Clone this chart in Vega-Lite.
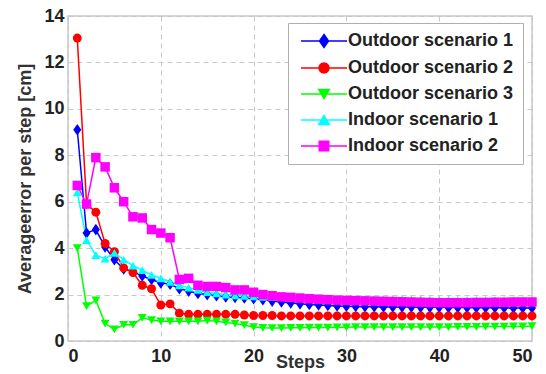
{
  "$schema": "https://vega.github.io/schema/vega-lite/v6.json",
  "width": 464,
  "height": 325,
  "autosize": {"type": "none"},
  "padding": {"left": 68, "top": 16, "right": 14, "bottom": 33},
  "background": "white",
  "config": {
    "font": "Liberation Sans",
    "view": {"stroke": "#c8c8c8", "strokeWidth": 1.5},
    "axis": {
      "domain": false,
      "ticks": false,
      "grid": true,
      "gridColor": "#c8c8c8",
      "gridDash": [5, 4],
      "gridWidth": 1,
      "labelFont": "Liberation Sans",
      "labelFontSize": 18,
      "labelFontWeight": "bold",
      "labelColor": "#222222",
      "titleFont": "Liberation Sans",
      "titleFontSize": 18,
      "titleFontWeight": "bold",
      "titleColor": "#333333"
    }
  },
  "data": {
    "values": [
      {"x": 1, "Outdoor scenario 1": 9.1, "Outdoor scenario 2": 13.05, "Outdoor scenario 3": 4.0, "Indoor scenario 1": 6.4, "Indoor scenario 2": 6.7},
      {"x": 2, "Outdoor scenario 1": 4.65, "Outdoor scenario 2": 5.9, "Outdoor scenario 3": 1.5, "Indoor scenario 1": 4.35, "Indoor scenario 2": 5.9},
      {"x": 3, "Outdoor scenario 1": 4.8, "Outdoor scenario 2": 5.55, "Outdoor scenario 3": 1.75, "Indoor scenario 1": 3.7, "Indoor scenario 2": 7.9},
      {"x": 4, "Outdoor scenario 1": 4.05, "Outdoor scenario 2": 4.2, "Outdoor scenario 3": 0.75, "Indoor scenario 1": 3.55, "Indoor scenario 2": 7.5},
      {"x": 5, "Outdoor scenario 1": 3.5, "Outdoor scenario 2": 3.85, "Outdoor scenario 3": 0.5, "Indoor scenario 1": 3.8, "Indoor scenario 2": 6.6},
      {"x": 6, "Outdoor scenario 1": 3.1, "Outdoor scenario 2": 3.15, "Outdoor scenario 3": 0.7, "Indoor scenario 1": 3.5, "Indoor scenario 2": 6.0},
      {"x": 7, "Outdoor scenario 1": 3.0, "Outdoor scenario 2": 2.95, "Outdoor scenario 3": 0.7, "Indoor scenario 1": 3.25, "Indoor scenario 2": 5.35},
      {"x": 8, "Outdoor scenario 1": 2.8, "Outdoor scenario 2": 2.4, "Outdoor scenario 3": 1.0, "Indoor scenario 1": 3.05, "Indoor scenario 2": 5.3},
      {"x": 9, "Outdoor scenario 1": 2.65, "Outdoor scenario 2": 2.25, "Outdoor scenario 3": 0.9, "Indoor scenario 1": 2.85, "Indoor scenario 2": 4.8},
      {"x": 10, "Outdoor scenario 1": 2.5, "Outdoor scenario 2": 1.55, "Outdoor scenario 3": 0.85, "Indoor scenario 1": 2.7, "Indoor scenario 2": 4.65},
      {"x": 11, "Outdoor scenario 1": 2.45, "Outdoor scenario 2": 1.6, "Outdoor scenario 3": 0.85, "Indoor scenario 1": 2.55, "Indoor scenario 2": 4.45},
      {"x": 12, "Outdoor scenario 1": 2.25, "Outdoor scenario 2": 1.2, "Outdoor scenario 3": 0.85, "Indoor scenario 1": 2.4, "Indoor scenario 2": 2.65},
      {"x": 13, "Outdoor scenario 1": 2.15, "Outdoor scenario 2": 1.15, "Outdoor scenario 3": 0.85, "Indoor scenario 1": 2.3, "Indoor scenario 2": 2.7},
      {"x": 14, "Outdoor scenario 1": 2.05, "Outdoor scenario 2": 1.15, "Outdoor scenario 3": 0.85, "Indoor scenario 1": 2.2, "Indoor scenario 2": 2.4},
      {"x": 15, "Outdoor scenario 1": 2.0, "Outdoor scenario 2": 1.15, "Outdoor scenario 3": 0.88, "Indoor scenario 1": 2.1, "Indoor scenario 2": 2.35},
      {"x": 16, "Outdoor scenario 1": 1.95, "Outdoor scenario 2": 1.15, "Outdoor scenario 3": 0.85, "Indoor scenario 1": 2.05, "Indoor scenario 2": 2.35},
      {"x": 17, "Outdoor scenario 1": 1.9, "Outdoor scenario 2": 1.15, "Outdoor scenario 3": 0.8, "Indoor scenario 1": 2.0, "Indoor scenario 2": 2.3},
      {"x": 18, "Outdoor scenario 1": 1.88, "Outdoor scenario 2": 1.15, "Outdoor scenario 3": 0.75, "Indoor scenario 1": 1.97, "Indoor scenario 2": 2.2},
      {"x": 19, "Outdoor scenario 1": 1.85, "Outdoor scenario 2": 1.12, "Outdoor scenario 3": 0.68, "Indoor scenario 1": 1.94, "Indoor scenario 2": 2.2},
      {"x": 20, "Outdoor scenario 1": 1.82, "Outdoor scenario 2": 1.1, "Outdoor scenario 3": 0.6, "Indoor scenario 1": 1.92, "Indoor scenario 2": 2.1},
      {"x": 21, "Outdoor scenario 1": 1.78, "Outdoor scenario 2": 1.1, "Outdoor scenario 3": 0.57, "Indoor scenario 1": 1.9, "Indoor scenario 2": 2.0},
      {"x": 22, "Outdoor scenario 1": 1.72, "Outdoor scenario 2": 1.1, "Outdoor scenario 3": 0.56, "Indoor scenario 1": 1.9, "Indoor scenario 2": 1.95},
      {"x": 23, "Outdoor scenario 1": 1.68, "Outdoor scenario 2": 1.08, "Outdoor scenario 3": 0.56, "Indoor scenario 1": 1.89, "Indoor scenario 2": 1.9},
      {"x": 24, "Outdoor scenario 1": 1.64, "Outdoor scenario 2": 1.08, "Outdoor scenario 3": 0.57, "Indoor scenario 1": 1.88, "Indoor scenario 2": 1.88},
      {"x": 25, "Outdoor scenario 1": 1.6, "Outdoor scenario 2": 1.08, "Outdoor scenario 3": 0.57, "Indoor scenario 1": 1.87, "Indoor scenario 2": 1.85},
      {"x": 26, "Outdoor scenario 1": 1.57, "Outdoor scenario 2": 1.08, "Outdoor scenario 3": 0.58, "Indoor scenario 1": 1.86, "Indoor scenario 2": 1.82},
      {"x": 27, "Outdoor scenario 1": 1.55, "Outdoor scenario 2": 1.08, "Outdoor scenario 3": 0.58, "Indoor scenario 1": 1.85, "Indoor scenario 2": 1.8},
      {"x": 28, "Outdoor scenario 1": 1.53, "Outdoor scenario 2": 1.08, "Outdoor scenario 3": 0.58, "Indoor scenario 1": 1.84, "Indoor scenario 2": 1.78},
      {"x": 29, "Outdoor scenario 1": 1.51, "Outdoor scenario 2": 1.08, "Outdoor scenario 3": 0.59, "Indoor scenario 1": 1.83, "Indoor scenario 2": 1.76},
      {"x": 30, "Outdoor scenario 1": 1.5, "Outdoor scenario 2": 1.08, "Outdoor scenario 3": 0.59, "Indoor scenario 1": 1.82, "Indoor scenario 2": 1.75},
      {"x": 31, "Outdoor scenario 1": 1.49, "Outdoor scenario 2": 1.08, "Outdoor scenario 3": 0.6, "Indoor scenario 1": 1.82, "Indoor scenario 2": 1.74},
      {"x": 32, "Outdoor scenario 1": 1.48, "Outdoor scenario 2": 1.08, "Outdoor scenario 3": 0.6, "Indoor scenario 1": 1.81, "Indoor scenario 2": 1.73},
      {"x": 33, "Outdoor scenario 1": 1.48, "Outdoor scenario 2": 1.08, "Outdoor scenario 3": 0.6, "Indoor scenario 1": 1.81, "Indoor scenario 2": 1.72},
      {"x": 34, "Outdoor scenario 1": 1.47, "Outdoor scenario 2": 1.08, "Outdoor scenario 3": 0.6, "Indoor scenario 1": 1.8, "Indoor scenario 2": 1.71},
      {"x": 35, "Outdoor scenario 1": 1.47, "Outdoor scenario 2": 1.08, "Outdoor scenario 3": 0.6, "Indoor scenario 1": 1.8, "Indoor scenario 2": 1.7},
      {"x": 36, "Outdoor scenario 1": 1.46, "Outdoor scenario 2": 1.08, "Outdoor scenario 3": 0.6, "Indoor scenario 1": 1.8, "Indoor scenario 2": 1.69},
      {"x": 37, "Outdoor scenario 1": 1.46, "Outdoor scenario 2": 1.08, "Outdoor scenario 3": 0.6, "Indoor scenario 1": 1.79, "Indoor scenario 2": 1.68},
      {"x": 38, "Outdoor scenario 1": 1.45, "Outdoor scenario 2": 1.08, "Outdoor scenario 3": 0.6, "Indoor scenario 1": 1.79, "Indoor scenario 2": 1.67},
      {"x": 39, "Outdoor scenario 1": 1.45, "Outdoor scenario 2": 1.08, "Outdoor scenario 3": 0.6, "Indoor scenario 1": 1.78, "Indoor scenario 2": 1.66},
      {"x": 40, "Outdoor scenario 1": 1.45, "Outdoor scenario 2": 1.08, "Outdoor scenario 3": 0.6, "Indoor scenario 1": 1.78, "Indoor scenario 2": 1.65},
      {"x": 41, "Outdoor scenario 1": 1.44, "Outdoor scenario 2": 1.08, "Outdoor scenario 3": 0.6, "Indoor scenario 1": 1.78, "Indoor scenario 2": 1.65},
      {"x": 42, "Outdoor scenario 1": 1.44, "Outdoor scenario 2": 1.08, "Outdoor scenario 3": 0.61, "Indoor scenario 1": 1.77, "Indoor scenario 2": 1.65},
      {"x": 43, "Outdoor scenario 1": 1.44, "Outdoor scenario 2": 1.08, "Outdoor scenario 3": 0.61, "Indoor scenario 1": 1.77, "Indoor scenario 2": 1.65},
      {"x": 44, "Outdoor scenario 1": 1.43, "Outdoor scenario 2": 1.08, "Outdoor scenario 3": 0.61, "Indoor scenario 1": 1.77, "Indoor scenario 2": 1.66},
      {"x": 45, "Outdoor scenario 1": 1.43, "Outdoor scenario 2": 1.08, "Outdoor scenario 3": 0.62, "Indoor scenario 1": 1.77, "Indoor scenario 2": 1.66},
      {"x": 46, "Outdoor scenario 1": 1.43, "Outdoor scenario 2": 1.08, "Outdoor scenario 3": 0.62, "Indoor scenario 1": 1.76, "Indoor scenario 2": 1.67},
      {"x": 47, "Outdoor scenario 1": 1.43, "Outdoor scenario 2": 1.08, "Outdoor scenario 3": 0.62, "Indoor scenario 1": 1.76, "Indoor scenario 2": 1.67},
      {"x": 48, "Outdoor scenario 1": 1.42, "Outdoor scenario 2": 1.08, "Outdoor scenario 3": 0.63, "Indoor scenario 1": 1.76, "Indoor scenario 2": 1.68},
      {"x": 49, "Outdoor scenario 1": 1.42, "Outdoor scenario 2": 1.08, "Outdoor scenario 3": 0.63, "Indoor scenario 1": 1.76, "Indoor scenario 2": 1.68},
      {"x": 50, "Outdoor scenario 1": 1.42, "Outdoor scenario 2": 1.08, "Outdoor scenario 3": 0.64, "Indoor scenario 1": 1.76, "Indoor scenario 2": 1.68}
    ]
  },
  "transform": [
    {"fold": ["Outdoor scenario 1", "Outdoor scenario 2", "Outdoor scenario 3", "Indoor scenario 1", "Indoor scenario 2"], "as": ["series", "value"]}
  ],
  "encoding": {
    "x": {
      "field": "x", "type": "quantitative",
      "scale": {"domain": [0, 50], "nice": false, "zero": false},
      "axis": {"values": [0, 10, 20, 30, 40, 50], "title": "Steps", "labelPadding": 6, "titleY": 26, "titleBaseline": "alphabetic"}
    },
    "y": {
      "field": "value", "type": "quantitative",
      "scale": {"domain": [0, 14], "nice": false},
      "axis": {"values": [0, 2, 4, 6, 8, 10, 12, 14], "title": "Averageerror per step [cm]", "labelPadding": 4, "titleX": -37.5, "titleY": 162.5, "titleAngle": -90, "titleBaseline": "alphabetic", "titleAlign": "center"}
    },
    "color": {
      "field": "series", "type": "nominal",
      "scale": {
        "domain": ["Outdoor scenario 1", "Outdoor scenario 2", "Outdoor scenario 3", "Indoor scenario 1", "Indoor scenario 2"],
        "range": ["#0000ff", "#ff0000", "#00ff00", "#00ffff", "#ff00ff"]
      },
      "legend": {
        "title": null,
        "orient": "none",
        "legendX": 220,
        "legendY": 7,
        "padding": 9,
        "fillColor": "white",
        "strokeColor": "#b0b0b0",
        "labelFont": "Liberation Sans",
        "labelFontSize": 18,
        "labelFontWeight": "bold",
        "labelColor": "#222222",
        "labelLimit": 0,
        "labelOffset": 15,
        "symbolOffset": 18,
        "rowPadding": 8,
        "symbolSize": 100,
        "symbolStrokeWidth": 1.5,
        "encode": {
          "symbols": {
            "update": {
              "shape": {"signal": "datum.value == 'Outdoor scenario 1' ? 'M-4.6,0L4.6,0M0,-1.3L0.9,0L0,1.3L-0.9,0Z' : datum.value == 'Outdoor scenario 2' ? 'M-4.6,0L4.6,0M1,0L0.866,0.5L0.5,0.866L0,1L-0.5,0.866L-0.866,0.5L-1,0L-0.866,-0.5L-0.5,-0.866L0,-1L0.5,-0.866L0.866,-0.5Z' : datum.value == 'Outdoor scenario 3' ? 'M-4.6,0L4.6,0M-1.05,-0.9L1.05,-0.9L0,0.9Z' : datum.value == 'Indoor scenario 1' ? 'M-4.6,0L4.6,0M-1.05,0.9L1.05,0.9L0,-0.9Z' : 'M-4.6,0L4.6,0M-0.95,-0.95L0.95,-0.95L0.95,0.95L-0.95,0.95Z'"},
              "fill": {"signal": "scale('color', datum.value)"},
              "stroke": {"signal": "scale('color', datum.value)"},
              "opacity": {"value": 1}
            }
          }
        }
      }
    }
  },
  "layer": [
    {"mark": {"type": "line", "strokeWidth": 1.5}},
    {"transform": [{"filter": "datum.series == 'Outdoor scenario 1'"}], "mark": {"type": "point", "filled": true, "size": 80, "opacity": 1, "shape": "M0,-1.3L0.9,0L0,1.3L-0.9,0Z"}},
    {"transform": [{"filter": "datum.series == 'Outdoor scenario 2'"}], "mark": {"type": "point", "filled": true, "size": 80, "opacity": 1, "shape": "circle"}},
    {"transform": [{"filter": "datum.series == 'Outdoor scenario 3'"}], "mark": {"type": "point", "filled": true, "size": 80, "opacity": 1, "shape": "triangle-down"}},
    {"transform": [{"filter": "datum.series == 'Indoor scenario 1'"}], "mark": {"type": "point", "filled": true, "size": 80, "opacity": 1, "shape": "triangle-up"}},
    {"transform": [{"filter": "datum.series == 'Indoor scenario 2'"}], "mark": {"type": "point", "filled": true, "size": 90, "opacity": 1, "shape": "square"}}
  ]
}
